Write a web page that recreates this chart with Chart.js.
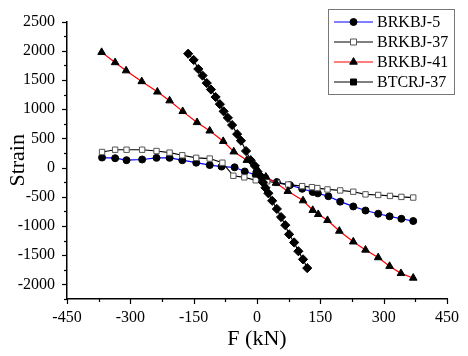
<!DOCTYPE html>
<html>
<head>
<meta charset="utf-8">
<title>Strain - F</title>
<script src="https://cdn.jsdelivr.net/npm/chart.js@4.4.1/dist/chart.umd.min.js"></script>
<style>
  html, body { margin: 0; padding: 0; background: #fff; }
  canvas { display: block; }
</style>
</head>
<body>
<canvas id="strainChart" width="468" height="356"></canvas>
<script>
// Load (kN) and strain readings for each specimen
const f5 = [-367, -336, -309, -272, -238, -207, -177, -144, -112, -84, -53, -29, -3, 20, 47, 78, 107, 132, 144, 169, 197, 228, 257, 287, 314, 342, 370];
const s5 = [172, 161, 127, 139, 167, 167, 127, 84, 43, 17, 5, -67, -123, -179, -248, -300, -363, -418, -441, -490, -583, -665, -735, -790, -835, -876, -915];

const f37 = [-367, -336, -309, -272, -238, -207, -177, -144, -112, -82, -56, -30, -3, 24, 47, 74, 107, 130, 143, 167, 197, 228, 257, 287, 315, 342, 370];
const s37 = [267, 306, 306, 306, 284, 256, 211, 167, 155, 84, -140, -167, -217, -234, -262, -290, -318, -335, -351, -374, -391, -413, -458, -469, -485, -502, -513];

const f41 = [-368, -336, -310, -273, -236, -207, -176, -142, -112, -80, -55, -24, 0, 21, 45, 73, 109, 132, 145, 167, 195, 228, 257, 287, 314, 341, 370];
const s41 = [1975, 1800, 1660, 1475, 1297, 1146, 963, 774, 630, 451, 272, 127, -23, -160, -265, -405, -565, -730, -800, -903, -1086, -1270, -1410, -1540, -1688, -1811, -1890];

const fT37 = [-163, -150, -139, -129, -119, -109, -98, -88, -79, -69, -59, -47, -38, -26, -15, -5, 1, 9, 14, 20, 27, 36, 47, 57, 67, 76, 88, 98, 109, 119];
const sT37 = [1950, 1843, 1688, 1576, 1447, 1337, 1208, 1086, 963, 852, 729, 573, 461, 284, 127, 30, -67, -150, -251, -346, -440, -568, -708, -847, -986, -1143, -1282, -1432, -1571, -1721];

const seriesNames = ['BRKBJ-5', 'BRKBJ-37', 'BRKBJ-41', 'BTCRJ-37'];

// axis ticks: labelled majors, unlabelled minors half way between
const xMajor = [-450, -300, -150, 0, 150, 300, 450];
const yMajor = [-2000, -1500, -1000, -500, 0, 500, 1000, 1500, 2000, 2500];
const xMin = -450, xMax = 450;
const yMin = -2250, yMax = 2500;

const xStep = 150, yStep = 500;
const xTicks = [];
xMajor.forEach(v => { xTicks.push(v); if (v + xStep / 2 <= xMax) xTicks.push(v + xStep / 2); });
const yTicks = [yMin];
yMajor.forEach(v => { yTicks.push(v); if (v + yStep / 2 <= yMax) yTicks.push(v + yStep / 2); });

const pts = (fs, ss) => fs.map((f, i) => ({ x: f, y: ss[i] }));

const serif = '"Liberation Serif", "Times New Roman", serif';

const styles = [
  { line: '#0000ff', shape: 'circle', fill: '#000', edge: '#000', r: 3.5 },
  { line: '#000000', shape: 'rect', fill: '#fff', edge: '#555', r: 3.8 },
  { line: '#ff0000', shape: 'triangle', fill: '#000', edge: '#000', r: 4.4 },
  { line: '#000000', shape: 'rectRot', fill: '#000', edge: '#000', r: 4.6 }
];
const dataSets = [pts(f5, s5), pts(f37, s37), pts(f41, s41), pts(fT37, sT37)];

// small ticks on the outside of both axes
const axisTicks = {
  id: 'axisTicks',
  afterDraw(chart) {
    const ctx = chart.ctx;
    const area = chart.chartArea;
    const xs = chart.scales.x, ys = chart.scales.y;
    ctx.save();
    ctx.strokeStyle = '#000';
    ctx.lineWidth = 1.2;
    xTicks.forEach(v => {
      const px = Math.round(xs.getPixelForValue(v)) + 0.5;
      const len = xMajor.includes(v) ? 5 : 3;
      ctx.beginPath();
      ctx.moveTo(px, area.bottom);
      ctx.lineTo(px, area.bottom + len);
      ctx.stroke();
    });
    yTicks.forEach(v => {
      const py = Math.round(ys.getPixelForValue(v)) + 0.5;
      const len = yMajor.includes(v) ? 5 : 3;
      ctx.beginPath();
      ctx.moveTo(area.left, py);
      ctx.lineTo(area.left - len, py);
      ctx.stroke();
    });
    ctx.restore();
  }
};

// boxed legend with line + marker samples, top right
function drawMarker(ctx, st, x, y) {
  ctx.fillStyle = st.fill;
  ctx.strokeStyle = st.edge;
  ctx.lineWidth = 1;
  ctx.beginPath();
  if (st.shape === 'circle') {
    ctx.arc(x, y, st.r, 0, Math.PI * 2);
  } else if (st.shape === 'rect' || st.shape === 'rectRot') {
    const h = 3;
    ctx.rect(x - h, y - h, 2 * h, 2 * h);
  } else if (st.shape === 'triangle') {
    const r = st.r;
    ctx.moveTo(x, y - r);
    ctx.lineTo(x + r * 0.866, y + r * 0.5);
    ctx.lineTo(x - r * 0.866, y + r * 0.5);
    ctx.closePath();
  }
  ctx.fill();
  ctx.stroke();
}

const boxLegend = {
  id: 'boxLegend',
  afterDraw(chart) {
    const ctx = chart.ctx;
    const left = 328.5, top = 9.5, w = 126, h = 85;
    ctx.save();
    ctx.fillStyle = '#fff';
    ctx.fillRect(left, top, w, h);
    ctx.strokeStyle = '#777';
    ctx.lineWidth = 1;
    ctx.strokeRect(left, top, w, h);
    ctx.font = '16px ' + serif;
    ctx.textBaseline = 'middle';
    seriesNames.forEach((name, i) => {
      const y = 22 + i * 20;
      const st = styles[i];
      ctx.strokeStyle = st.line;
      ctx.lineWidth = 1.2;
      ctx.beginPath();
      ctx.moveTo(334, y);
      ctx.lineTo(373, y);
      ctx.stroke();
      drawMarker(ctx, st, 353.5, y);
      ctx.fillStyle = '#000';
      ctx.fillText(name, 377, y + 1);
    });
    ctx.restore();
  }
};

new Chart(document.getElementById('strainChart'), {
  type: 'line',
  data: {
    datasets: dataSets.map((d, i) => ({
      label: seriesNames[i],
      data: d,
      borderColor: styles[i].line,
      borderWidth: 1.2,
      pointStyle: styles[i].shape,
      pointRadius: styles[i].r,
      pointBackgroundColor: styles[i].fill,
      pointBorderColor: styles[i].edge,
      pointBorderWidth: 1,
      tension: 0,
      fill: false,
      order: 4 - i
    }))
  },
  options: {
    responsive: false,
    animation: false,
    events: [],
    layout: { padding: { top: 15, right: 13, left: 0, bottom: 0 } },
    plugins: {
      legend: { display: false },
      tooltip: { enabled: false }
    },
    scales: {
      x: {
        type: 'linear',
        min: xMin,
        max: xMax,
        afterBuildTicks: s => { s.ticks = xTicks.map(v => ({ value: v })); },
        afterFit: s => { s.height = 57; },
        grid: { display: false, drawTicks: false },
        border: { display: true, color: '#000', width: 1.5 },
        ticks: {
          autoSkip: false,
          maxRotation: 0,
          padding: 9,
          color: '#000',
          font: { family: serif, size: 16 },
          callback: v => xMajor.includes(v) ? String(v) : ''
        },
        title: {
          display: true,
          text: 'F (kN)',
          color: '#000',
          font: { family: serif, size: 22 },
          padding: { top: 0, bottom: 4 }
        }
      },
      y: {
        type: 'linear',
        min: yMin,
        max: yMax,
        afterBuildTicks: s => { s.ticks = yTicks.map(v => ({ value: v })); },
        afterFit: s => { s.width = 67; },
        grid: { display: false, drawTicks: false },
        border: { display: true, color: '#000', width: 1.5 },
        ticks: {
          autoSkip: false,
          padding: 12,
          color: '#000',
          font: { family: serif, size: 16 },
          callback: v => yMajor.includes(v) ? String(v) : ''
        },
        title: {
          display: true,
          text: 'Strain',
          color: '#000',
          font: { family: serif, size: 22 },
          padding: { top: 5, bottom: 0 }
        }
      }
    }
  },
  plugins: [axisTicks, boxLegend]
});
</script>
</body>
</html>
